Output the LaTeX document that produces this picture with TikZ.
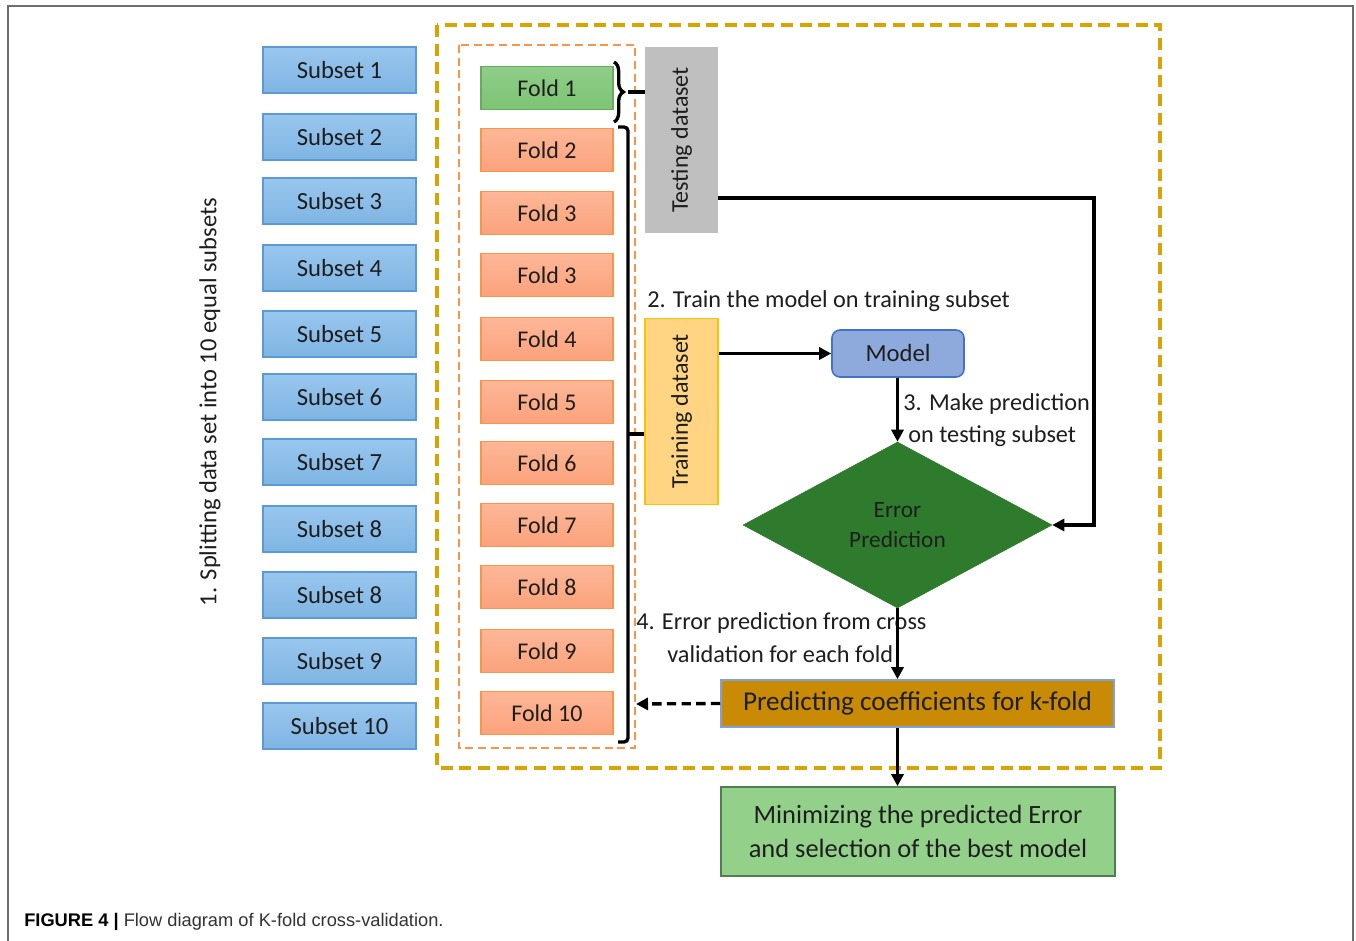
\documentclass[tikz,border=0pt]{standalone}
\usepackage{fontspec}
\setmainfont{Carlito}
\newfontfamily\capfont{Liberation Sans}
\usetikzlibrary{shapes.geometric,arrows.meta,decorations.pathreplacing}
\newlength\pxu \setlength\pxu{0.75pt}
\definecolor{subsetfill}{HTML}{7FB5E3}
\definecolor{subsettop}{HTML}{98C6EE}
\definecolor{subsetline}{HTML}{5B9BD5}
\definecolor{foldfill}{HTML}{FBA27C}
\definecolor{foldtop}{HTML}{FDB797}
\definecolor{foldline}{HTML}{F79646}
\definecolor{greenfill}{HTML}{7CC474}
\definecolor{greenline}{HTML}{6AAA5F}
\definecolor{testfill}{HTML}{BFBFBF}
\definecolor{trainfill}{HTML}{FFD584}
\definecolor{trainline}{HTML}{FFC000}
\definecolor{modelfill}{HTML}{8EA9DB}
\definecolor{modelline}{HTML}{4472C4}
\definecolor{errfill}{HTML}{2E7B2E}
\definecolor{predfill}{HTML}{C98B06}
\definecolor{predline}{HTML}{7EA2D8}
\definecolor{minfill}{HTML}{93D18B}
\definecolor{minline}{HTML}{4F7F4F}
\definecolor{outerdash}{HTML}{D9A300}
\definecolor{innerdash}{HTML}{F7964A}
\definecolor{txt}{HTML}{1E1E1E}
\definecolor{capgray}{HTML}{333333}
\definecolor{framegray}{HTML}{6E6E6E}
\tikzset{
  boxtext/.style={font=\fontsize{18.5}{20}\selectfont, text=txt},
  subsetbox/.style={boxtext, draw=subsetline, line width=1.2pt, top color=subsettop, bottom color=subsetfill,
    minimum width=153\pxu, minimum height=46\pxu, inner sep=0pt},
  foldbox/.style={boxtext, font=\fontsize{18}{20}\selectfont, draw=foldline, line width=1.2pt, top color=foldtop, bottom color=foldfill,
    minimum width=132\pxu, minimum height=43\pxu, inner sep=0pt},
  greenfold/.style={foldbox, draw=greenline, top color=greenfill!85!white, bottom color=greenfill},
  sidebox/.style={boxtext, font=\fontsize{18}{20}\selectfont, rotate=90, minimum width=186\pxu, minimum height=73\pxu, inner sep=0pt},
  arr/.style={line width=2.5pt, -{Triangle[length=9pt,width=9pt]}},
  plain/.style={line width=2.5pt},
  note/.style={font=\fontsize{18.2}{20}\selectfont, text=txt, inner sep=0pt, anchor=west},
}
\begin{document}
\begin{tikzpicture}[x=\pxu, y=-\pxu]
\useasboundingbox (0,0) rectangle (1356,941);
\fill[white] (0,0) rectangle (1356,941);
% page frame
\draw[framegray, line width=1.4pt] (8,941) -- (8,6) -- (1353,6) -- (1353,941);

% dashed group frames
\draw[outerdash, line width=2.6pt, dash pattern=on 9pt off 5pt] (437,25) rectangle (1160,768);
\draw[innerdash, line width=1.8pt, dash pattern=on 6pt off 3.5pt] (459,45) rectangle (635,748);

% subsets
\foreach \n/\y/\t in {s1/70/1, s2/137/2, s3/201/3, s4/268/4, s5/334/5, s6/397/6, s7/462/7, s8/529/8, s9/595/8, s10/661/9, s11/726/10}
  \node[subsetbox] (\n) at (339.5,\y) {Subset \t};

\node[font=\fontsize{18.4}{20}\selectfont, text=txt, rotate=90] (split) at (210,402) {1. Splitting data set into 10 equal subsets};

% folds
\node[greenfold] (f1) at (547,88) {Fold 1};
\foreach \n/\y/\t in {f2/150/2, f3/213/3, f4/275/3, f5/339/4, f6/402/5, f7/463/6, f8/525/7, f9/587/8, f10/651/9, f11/713/10}
  \node[foldbox] (\n) at (547,\y) {Fold \t};

% datasets (rotated: .north is the left side, .south the right side)
\node[sidebox, fill=testfill] (test) at (681.5,140) {Testing dataset};
\node[sidebox, fill=trainfill, draw=trainline, line width=1.2pt] (train) at (681.5,411.5) {Training dataset};

% brackets
\draw[plain, decorate, decoration={brace, amplitude=7pt}] (614,62) -- (614,122);
\coordinate (tbrace) at (628,92);
\draw[plain] (tbrace) -- (tbrace -| test.north);
\draw[plain, rounded corners=3pt] (618,127) -- (628,127) -- (628,742) -- (618,742);
\coordinate (trbrace) at (628,434);
\draw[plain] (trbrace) -- (trbrace -| train.north);

% model and decision
\node[note] (lbl2) at (647,301) {2. Train the model on training subset};
\node[boxtext, draw=modelline, line width=1.2pt, fill=modelfill, rounded corners=6pt,
  minimum width=132\pxu, minimum height=47\pxu, inner sep=0pt] (model) at (898,353.5) {Model};
\node[diamond, draw=errfill, fill=errfill, minimum width=309\pxu, minimum height=166\pxu,
  shape aspect=1.86, inner sep=0pt, align=center, boxtext, font=\fontsize{17.5}{23}\selectfont] (err) at (897.5,525) {Error\\Prediction};
\node[note] (lbl3a) at (903,404) {3. Make prediction};
\node[note] (lbl3b) at (908,436) {on testing subset};

\node[boxtext, draw=predline, line width=1.2pt, fill=predfill, minimum width=393\pxu, minimum height=47\pxu,
  inner sep=0pt, font=\fontsize{20.4}{22}\selectfont] (pred) at (917.5,703.5) {Predicting coefficients for k-fold};
\node[boxtext, draw=minline, line width=1.2pt, fill=minfill, minimum width=394\pxu, minimum height=89\pxu,
  inner sep=0pt, align=center, font=\fontsize{19.8}{26}\selectfont] (mini) at (918,831.5) {Minimizing the predicted Error\\and selection of the best model};

\node[note] (lbl4a) at (636,623) {4. Error prediction from cross};
\node[note] (lbl4b) at (667,654) {validation for each fold};

% connectors
\draw[arr] (train.south |- model) -- (model.west);
\draw[arr] (model.south -| err.north) -- (err.north);
\coordinate (turn) at (1094,198);
\draw[arr] (test.south |- turn) -- (turn) |- (err.east);
\draw[arr] (err.south) -- (err.south |- pred.north);
\coordinate (back) at (636,704);
\draw[line width=2.5pt, dash pattern=on 7pt off 4pt, -{Triangle[length=9pt,width=9pt]}] (pred.west) -- (back);
\draw[arr] (pred.south -| err.south) -- (mini.north -| err.south);

% caption
\node[anchor=west, inner sep=0pt, text=capgray, font=\capfont\fontsize{13.7}{15}\selectfont] (cap) at (24,922)
  {\textcolor{black}{\textbf{FIGURE 4 |}} Flow diagram of K-fold cross-validation.};
\end{tikzpicture}
\end{document}
